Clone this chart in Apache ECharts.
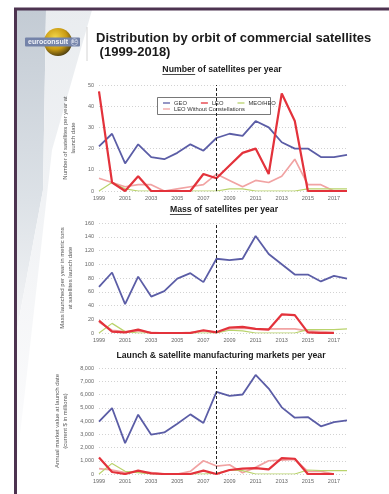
<!DOCTYPE html>
<html>
<head>
<meta charset="utf-8">
<script src="https://cdn.jsdelivr.net/npm/echarts@6/dist/echarts.min.js"></script>
<style>
  html, body { margin: 0; padding: 0; background: #fff; }
  #chart { width: 389px; height: 494px; }
</style>
</head>
<body>
<div id="chart"></div>
<script>
// Launch years shown on every panel
const years = ['1999','2000','2001','2002','2003','2004','2005','2006','2007','2008',
               '2009','2010','2011','2012','2013','2014','2015','2016','2017','2018'];

// Number of satellites per year
const countGeo = [21, 27, 13, 22, 16, 15, 18, 22, 19, 25, 27, 26, 33, 30, 23, 20, 20, 16, 16, 17];
const countLeo = [47, 4, 0, 7, 0, 0, 0, 0, 8, 6, 12, 18, 20, 8, 46, 33, 0, 0, 0, 0];
const countMeo = [0, 4, 1, 0, 0, 0, 0, 0, 0, 0, 1, 1, 0, 0, 0, 0, 1, 1, 1, 1];
const countLeoNoConst = [6, 4, 2, 3, 3, 0, 1, 2, 3, 8, 5, 2, 5, 4, 7, 15, 3, 3, 0, null];

// Mass launched per year (metric tons)
const massGeo = [67, 88, 42, 82, 53, 61, 79, 87, 74, 108, 106, 108, 141, 115, 100, 85, 85, 75, 83, 79];
const massLeo = [18, 2, 1, 5, 0, 0, 0, 0, 4, 1, 8, 9, 6, 5, 27, 26, 1, 0, 0, null];
const massMeo = [0, 14, 2, 0, 0, 0, 0, 0, 0, 0, 4, 3, 0, 0, 0, 0, 5, 5, 5, 6];
const massLeoNoConst = [16, 4, 2, 3, 1, 0, 0, 1, 3, 1, 6, 7, 6, 6, 6, 6, 3, 2, 1, null];

// Annual market value at launch date (current $ millions)
const valueGeo = [3950, 4980, 2330, 4480, 2970, 3140, 3800, 4500, 3850, 6200, 5900, 6000, 7480, 6450, 5030, 4250, 4300, 3600, 3920, 4050];
const valueLeo = [1250, 150, 0, 250, 50, 0, 0, 0, 250, 0, 300, 400, 450, 350, 1200, 1150, 0, 0, 0, null];
const valueMeo = [0, 800, 200, 100, 0, 0, 0, 0, 0, 50, 300, 250, 0, 0, 0, 0, 300, 250, 250, 250];
const valueLeoNoConst = [400, 300, 100, 150, 100, 0, 0, 200, 1000, 600, 700, 100, 500, 1000, 1050, 1100, 200, 200, 0, null];

const splitYear = '2008';

const FONT = "'Liberation Sans', Arial, sans-serif";
const colors = {
  'GEO': '#5b5da6',
  'LEO': '#e3323b',
  'MEO/HEO': '#b9d36c',
  'LEO Without Constellations': '#f1a3a3'
};
const widths = { 'GEO': 1.8, 'LEO': 2.2, 'MEO/HEO': 1.2, 'LEO Without Constellations': 1.7 };

const panels = [
  { top: 85, height: 106, max: 50, interval: 10,
    name: 'Number of satellites per year at\nlaunch date',
    data: { 'GEO': countGeo, 'LEO': countLeo, 'MEO/HEO': countMeo, 'LEO Without Constellations': countLeoNoConst } },
  { top: 223, height: 110, max: 160, interval: 20,
    name: 'Mass launched per year in metric tons\nat satellites launch date',
    data: { 'GEO': massGeo, 'LEO': massLeo, 'MEO/HEO': massMeo, 'LEO Without Constellations': massLeoNoConst } },
  { top: 368, height: 106, max: 8000, interval: 1000,
    name: 'Annual market value at launch date\n(current $ in millions)',
    data: { 'GEO': valueGeo, 'LEO': valueLeo, 'MEO/HEO': valueMeo, 'LEO Without Constellations': valueLeoNoConst } }
];

const grid = [], xAxis = [], yAxis = [], series = [];
panels.forEach((p, i) => {
  grid.push({ left: 99, width: 248, top: p.top, height: p.height });
  xAxis.push({
    type: 'category', gridIndex: i, data: years, boundaryGap: false,
    axisLine: { show: false }, axisTick: { show: false },
    axisLabel: { interval: 1, fontSize: 5.5, color: '#666', margin: 4, fontFamily: FONT }
  });
  yAxis.push({
    type: 'value', gridIndex: i, min: 0, max: p.max, interval: p.interval,
    axisLine: { show: false }, axisTick: { show: false },
    axisLabel: { fontSize: 5.5, color: '#666', margin: 5, fontFamily: FONT },
    splitLine: { lineStyle: { color: '#d2d2d2', type: [1, 2], width: 1 } },
    name: p.name, nameLocation: 'middle', nameGap: 21,
    nameTextStyle: { fontSize: 6, color: '#555', lineHeight: 8, fontFamily: FONT }
  });
  // draw order: pale series first, bright LEO on top
  ['LEO Without Constellations', 'GEO', 'MEO/HEO', 'LEO'].forEach(n => {
    const s = {
      type: 'line', name: n, xAxisIndex: i, yAxisIndex: i,
      data: p.data[n], symbol: 'none', silent: true,
      lineStyle: { color: colors[n], width: widths[n] },
      itemStyle: { color: colors[n] }
    };
    if (n === 'GEO') {
      s.markLine = {
        silent: true, symbol: ['none', 'none'], label: { show: false },
        lineStyle: { color: '#222', type: [3, 2], width: 1 },
        data: [{ xAxis: splitYear }]
      };
    }
    series.push(s);
  });
});

// text measuring for the underlined subtitle words
const ctx = document.createElement('canvas').getContext('2d');
function measure(str, font) { ctx.font = font; return ctx.measureText(str).width; }

const subFont = "bold 8.7px " + FONT;
function subtitle(cx, cy, underlined, rest) {
  const full = underlined + rest;
  const w = measure(full, subFont);
  const left = cx - w / 2;
  const els = [{
    type: 'text', x: left, y: cy, z: 10,
    style: { text: full, font: subFont, fill: '#1a1a1a', align: 'left', verticalAlign: 'middle' }
  }];
  if (underlined.trim()) {
    const uw = measure(underlined.trimEnd(), subFont);
    els.push({
      type: 'line', z: 10,
      shape: { x1: left, y1: cy + 4.5, x2: left + uw, y2: cy + 4.5 },
      style: { stroke: '#1a1a1a', lineWidth: 0.8 }
    });
  }
  return els;
}

const titleFont = "bold 13px " + FONT;

const graphic = [
  // left panel shading
  { type: 'polygon', z: 0, silent: true,
    shape: { points: [[17, 10], [46, 10], [43, 190], [17, 330]] },
    style: { fill: new echarts.graphic.LinearGradient(0, 0, 0, 1, [
      { offset: 0, color: '#c3cbd4' }, { offset: 0.6, color: '#dde2e7' }, { offset: 1, color: '#f3f4f6' }]) } },
  { type: 'polygon', z: 0, silent: true,
    shape: { points: [[46, 10], [92, 10], [52, 150], [24, 400], [17, 460], [17, 330], [43, 190]] },
    style: { fill: new echarts.graphic.LinearGradient(0, 0, 1, 1, [
      { offset: 0, color: '#e9ecef' }, { offset: 1, color: '#fcfcfd' }]) } },
  // slide frame
  { type: 'line', z: 1, silent: true,
    shape: { x1: 14, y1: 9, x2: 389, y2: 9 },
    style: { stroke: '#4d3350', lineWidth: 3 } },
  { type: 'line', z: 1, silent: true,
    shape: { x1: 15.5, y1: 8, x2: 15.5, y2: 494 },
    style: { stroke: '#4d3350', lineWidth: 3 } },
  // logo: globe with name plate
  { type: 'circle', z: 1, silent: true,
    shape: { cx: 58, cy: 42, r: 14 },
    style: { fill: new echarts.graphic.RadialGradient(0.4, 0.35, 0.75, [
      { offset: 0, color: '#f4d84a' }, { offset: 0.55, color: '#c99a12' }, { offset: 1, color: '#2b2510' }]) } },
  { type: 'rect', z: 2, silent: true,
    shape: { x: 25, y: 37.5, width: 55, height: 9, r: 1 },
    style: { fill: '#7483a9' } },
  { type: 'text', z: 3, silent: true, x: 28, y: 42,
    style: { text: 'euroconsult', font: "bold 7px " + FONT, fill: '#f2f4fa', align: 'left', verticalAlign: 'middle' } },
  { type: 'circle', z: 3, silent: true,
    shape: { cx: 74.5, cy: 42, r: 3.3 },
    style: { fill: 'none', stroke: '#dfe4f2', lineWidth: 0.6 } },
  { type: 'text', z: 3, silent: true, x: 74.5, y: 42,
    style: { text: 'EC', font: "bold 3.5px " + FONT, fill: '#eef1f8', align: 'center', verticalAlign: 'middle' } },
  // separator between logo and title
  { type: 'line', z: 1, silent: true,
    shape: { x1: 87, y1: 27, x2: 87, y2: 61 },
    style: { stroke: '#d4d4d4', lineWidth: 1 } },
  // slide title
  { type: 'text', z: 10, x: 96, y: 38,
    style: { text: 'Distribution by orbit of commercial satellites', font: titleFont, fill: '#1a1a1a', align: 'left', verticalAlign: 'middle' } },
  { type: 'text', z: 10, x: 96, y: 52.5,
    style: { text: ' (1999-2018)', font: titleFont, fill: '#1a1a1a', align: 'left', verticalAlign: 'middle' } },
  // legend frame
  { type: 'rect', z: 3, silent: true,
    shape: { x: 157.5, y: 97.5, width: 113, height: 17 },
    style: { fill: '#fff', stroke: '#555', lineWidth: 0.8 } }
]
  .concat(subtitle(222, 70, 'Number', ' of satellites per year'))
  .concat(subtitle(224, 210, 'Mass', ' of satellites per year'))
  .concat(subtitle(221, 356, '', 'Launch & satellite manufacturing markets per year'));

const legendBase = {
  icon: 'rect', itemWidth: 7, itemHeight: 1.3, itemGap: 14, padding: 0,
  textStyle: { fontSize: 5.8, color: '#333', fontFamily: FONT, padding: [0, 0, 0, -1] },
  selectedMode: false, z: 5
};

const option = {
  animation: false,
  backgroundColor: '#fff',
  grid, xAxis, yAxis, series, graphic,
  legend: [
    Object.assign({}, legendBase, { data: ['GEO', 'LEO', 'MEO/HEO'], left: 163, top: 100 }),
    Object.assign({}, legendBase, { data: ['LEO Without Constellations'], left: 163, top: 106 })
  ]
};

const chart = echarts.init(document.getElementById('chart'), null, { renderer: 'canvas' });
chart.setOption(option);
</script>
</body>
</html>
